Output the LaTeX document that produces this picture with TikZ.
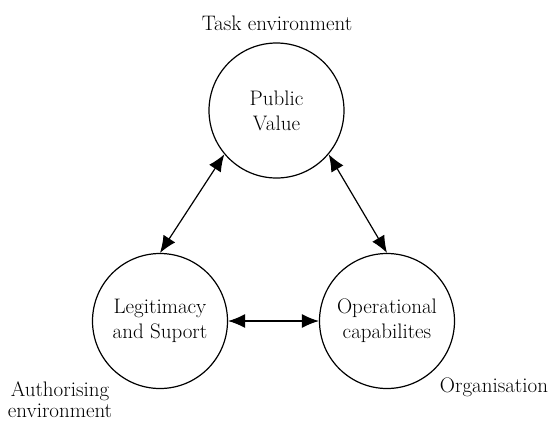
\documentclass[tikz,border=0pt]{standalone}
\usepackage{tikz}
\usetikzlibrary{arrows.meta}
\tikzstyle{vertex}=[circle,draw,line width=1.2pt,minimum size=135pt,inner sep=0pt,align=center]
\tikzstyle{label}=[inner sep=0pt,align=center]

\begin{document}
\begin{tikzpicture}[x=1pt,y=-1pt,line width=1.2pt,>={Latex[length=17pt,width=14pt]},
    font=\fontsize{21}{25}\selectfont]
  \useasboundingbox (0,0) rectangle (551,424);

  \node[vertex] (pv) at (276.5,110.5) {Public\\Value};
  \node[vertex] (ls) at (160,321) {Legitimacy\\and Suport};
  \node[vertex] (oc) at (387,321) {Operational\\capabilites};

  \node[label] (te) at (277,23) {Task environment};
  \node[label,font=\fontsize{21}{21}\selectfont] (ae) at (60,400) {Authorising\\environment};
  \node[label] (or) at (494,387) {Organisation};

  \draw[<->] (pv.220) -- (ls.north);
  \draw[<->] (pv.-40) -- (oc.north);
  \draw[<->] (ls.east) -- (oc.west);
\end{tikzpicture}
\end{document}
